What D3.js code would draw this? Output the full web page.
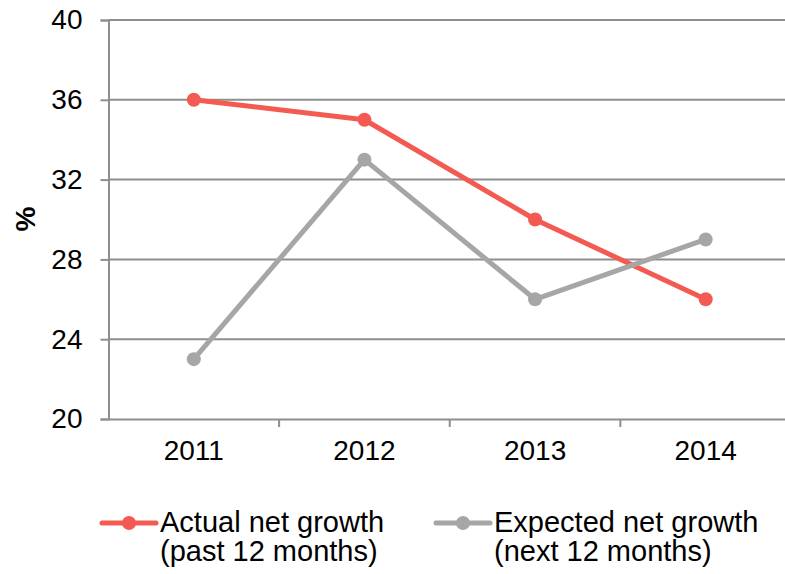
<!DOCTYPE html>
<html>
<head>
<meta charset="utf-8">
<script src="https://cdn.jsdelivr.net/npm/d3@7/dist/d3.min.js"></script>
<style>
  html, body { margin: 0; padding: 0; background: #fff; }
  svg { display: block; font-family: "Liberation Sans", Arial, sans-serif; }
</style>
</head>
<body>
<svg id="chart" width="785" height="574"></svg>
<script>
// Survey years and net growth balances (%)
const years = ["2011", "2012", "2013", "2014"];
const actualGrowth = [36, 35, 30, 26];
const expectedGrowth = [23, 33, 26, 29];
const yTicks = [20, 24, 28, 32, 36, 40];
const seriesNames = [
  ["Actual net growth", "(past 12 months)"],
  ["Expected net growth", "(next 12 months)"]
];
const seriesColors = ["#f35b52", "#a6a6a6"];

const svg = d3.select("#chart");
const plotLeft = 108.5, plotRight = 791, plotTop = 20, plotBottom = 419;
const fontSize = 28;

const x = d3.scaleBand().domain(years).range([plotLeft, plotRight]).padding(0);
const y = d3.scaleLinear().domain([20, 40]).range([plotBottom, plotTop]);

const gridColor = "#8e8e8e";

// horizontal gridlines
svg.append("g")
  .selectAll("line")
  .data(yTicks.slice(1))
  .join("line")
  .attr("x1", plotLeft).attr("x2", plotRight)
  .attr("y1", d => y(d)).attr("y2", d => y(d))
  .attr("stroke", gridColor).attr("stroke-width", 2);

// y axis
const yAxis = svg.append("g")
  .attr("transform", `translate(${plotLeft},0)`)
  .call(d3.axisLeft(y).tickValues(yTicks).tickSize(8).tickPadding(18));
yAxis.select(".domain").attr("stroke", gridColor).attr("stroke-width", 2);
yAxis.selectAll(".tick line").attr("stroke", gridColor).attr("stroke-width", 2);
yAxis.selectAll(".tick text")
  .attr("fill", "#000").attr("font-size", fontSize)
  .attr("font-family", "'Liberation Sans', Arial, sans-serif");

// x axis with tick marks at category boundaries
const xAxis = svg.append("g")
  .attr("transform", `translate(0,${plotBottom})`)
  .call(d3.axisBottom(x).tickSize(0).tickPadding(21));
xAxis.select(".domain").attr("stroke", gridColor).attr("stroke-width", 2);
xAxis.selectAll(".tick text")
  .attr("fill", "#000").attr("font-size", fontSize)
  .attr("font-family", "'Liberation Sans', Arial, sans-serif");
svg.append("g")
  .selectAll("line")
  .data(years)
  .join("line")
  .attr("x1", d => x(d) + x.bandwidth())
  .attr("x2", d => x(d) + x.bandwidth())
  .attr("y1", plotBottom).attr("y2", plotBottom + 8)
  .attr("stroke", gridColor).attr("stroke-width", 2);

// y axis title
svg.append("text")
  .attr("transform", "translate(35,219) rotate(-90)")
  .attr("text-anchor", "middle")
  .attr("font-size", 28).attr("font-weight", "bold")
  .text("%");

// series lines and markers
const cx = d => x(d) + x.bandwidth() / 2;
const line = d3.line().x((d, i) => cx(years[i])).y(d => y(d));
[actualGrowth, expectedGrowth].forEach((vals, s) => {
  const g = svg.append("g");
  g.append("path")
    .datum(vals)
    .attr("d", line)
    .attr("fill", "none")
    .attr("stroke", seriesColors[s])
    .attr("stroke-width", 5)
    .attr("stroke-linejoin", "round");
  g.selectAll("circle")
    .data(vals)
    .join("circle")
    .attr("cx", (d, i) => cx(years[i]))
    .attr("cy", d => y(d))
    .attr("r", 7)
    .attr("fill", seriesColors[s]);
});

// legend
const legendX = [100, 434];
seriesNames.forEach((lines, s) => {
  const g = svg.append("g").attr("transform", `translate(${legendX[s]},523)`);
  g.append("line")
    .attr("x1", 2).attr("x2", 56).attr("y1", 0).attr("y2", 0)
    .attr("stroke", seriesColors[s]).attr("stroke-width", 5)
    .attr("stroke-linecap", "round");
  g.append("circle").attr("cx", 29).attr("cy", 0).attr("r", 7)
    .attr("fill", seriesColors[s]);
  const t = g.append("text").attr("x", 60).attr("y", 9)
    .attr("font-size", 29).attr("fill", "#000");
  lines.forEach((l, i) => {
    t.append("tspan").attr("x", 60).attr("dy", i === 0 ? 0 : 29).text(l);
  });
});
</script>
</body>
</html>
